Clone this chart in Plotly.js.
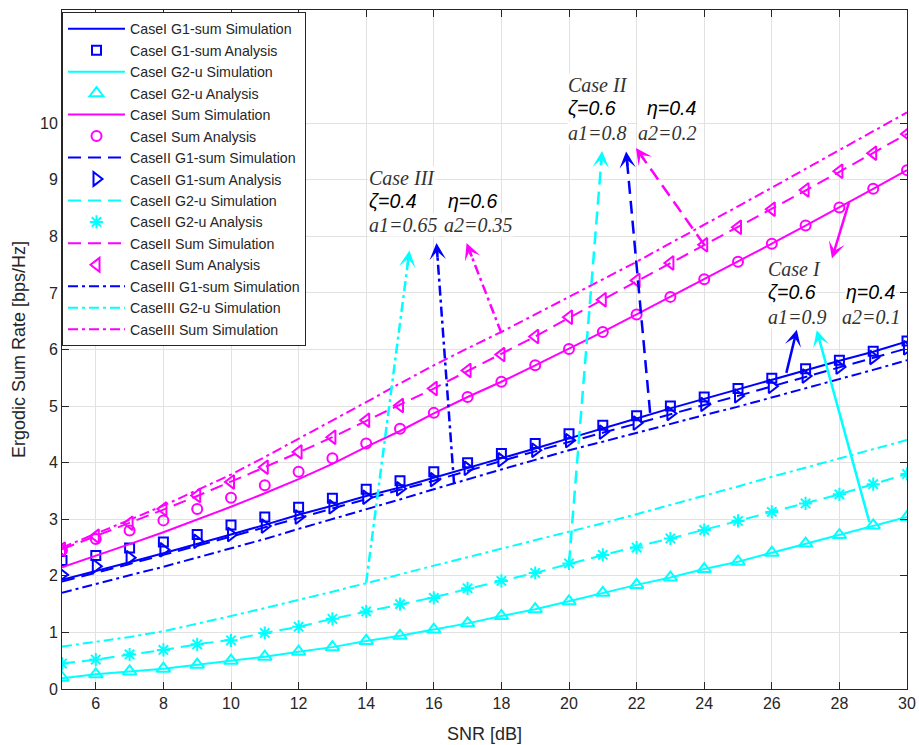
<!DOCTYPE html>
<html><head><meta charset="utf-8">
<script src="https://cdn.plot.ly/plotly-3.0.1.min.js"></script>
<style>html,body{margin:0;padding:0;background:#fff}#chart{width:919px;height:745px}</style>
</head><body><div id="chart"></div>
<script>
// ---------------- data ----------------
const snr = [5,6,7,8,9,10,11,12,13,14,15,16,17,18,19,20,21,22,23,24,25,26,27,28,29,30];
const xTicks = [6,8,10,12,14,16,18,20,22,24,26,28,30];
const yTicks = [0,1,2,3,4,5,6,7,8,9,10];

const caseI_G1_sim  = [1.93,2.08,2.24,2.40,2.56,2.73,2.90,3.08,3.24,3.41,3.56,3.73,3.91,4.07,4.25,4.43,4.60,4.78,4.96,5.13,5.29,5.47,5.64,5.80,5.96,6.14];
const caseI_G1_ana  = [2.27,2.36,2.49,2.60,2.73,2.90,3.04,3.21,3.37,3.53,3.68,3.84,4.00,4.16,4.34,4.51,4.66,4.83,5.00,5.16,5.31,5.49,5.66,5.81,5.97,6.15];
const caseI_G2_sim  = [0.19,0.26,0.31,0.36,0.43,0.50,0.57,0.66,0.74,0.85,0.94,1.05,1.16,1.29,1.41,1.55,1.70,1.84,1.97,2.12,2.25,2.41,2.57,2.72,2.89,3.04];
const caseI_G2_ana  = [0.20,0.26,0.31,0.36,0.43,0.50,0.57,0.66,0.74,0.85,0.94,1.05,1.16,1.29,1.41,1.55,1.70,1.84,1.97,2.12,2.25,2.41,2.57,2.72,2.89,3.04];
const caseI_Sum_sim = [2.15,2.35,2.56,2.77,2.99,3.22,3.46,3.71,3.98,4.28,4.56,4.87,5.16,5.43,5.72,6.01,6.31,6.62,6.93,7.24,7.55,7.87,8.19,8.51,8.84,9.17];
const caseI_Sum_ana = [2.45,2.65,2.80,2.98,3.18,3.38,3.60,3.84,4.08,4.34,4.60,4.88,5.16,5.43,5.72,6.01,6.31,6.62,6.93,7.24,7.55,7.87,8.19,8.51,8.84,9.17];
const caseII_G1_sim = [1.90,2.05,2.21,2.37,2.53,2.69,2.86,3.02,3.19,3.36,3.52,3.68,3.86,4.03,4.20,4.37,4.53,4.69,4.86,5.02,5.18,5.35,5.52,5.69,5.86,6.02];
const caseII_G1_ana = [2.02,2.17,2.32,2.46,2.61,2.73,2.88,3.04,3.22,3.39,3.54,3.70,3.90,4.05,4.22,4.39,4.54,4.70,4.87,5.03,5.18,5.35,5.53,5.69,5.86,6.03];
const caseII_G2_sim = [0.45,0.52,0.61,0.69,0.79,0.87,0.99,1.10,1.24,1.37,1.50,1.62,1.77,1.91,2.05,2.21,2.37,2.52,2.66,2.81,2.97,3.13,3.28,3.44,3.62,3.80];
const caseII_G2_ana = [0.45,0.52,0.61,0.69,0.79,0.86,0.99,1.10,1.24,1.37,1.50,1.61,1.78,1.91,2.05,2.22,2.37,2.50,2.66,2.81,2.97,3.13,3.28,3.44,3.62,3.80];
const caseII_Sum_sim= [2.47,2.70,2.93,3.17,3.41,3.66,3.92,4.18,4.45,4.74,5.02,5.31,5.62,5.92,6.23,6.56,6.88,7.21,7.53,7.85,8.16,8.48,8.81,9.14,9.47,9.81];
const caseII_Sum_ana= [2.47,2.70,2.93,3.18,3.42,3.66,3.92,4.19,4.45,4.75,5.01,5.31,5.63,5.91,6.23,6.57,6.88,7.22,7.53,7.85,8.16,8.48,8.82,9.15,9.47,9.81];
const caseIII_G1_sim= [1.70,1.86,2.01,2.16,2.32,2.48,2.65,2.83,3.00,3.17,3.35,3.53,3.71,3.88,4.05,4.22,4.37,4.53,4.68,4.84,4.99,5.15,5.31,5.48,5.64,5.81];
const caseIII_G2_sim= [0.75,0.83,0.92,1.02,1.15,1.29,1.43,1.57,1.72,1.87,2.03,2.18,2.33,2.48,2.62,2.77,2.93,3.09,3.25,3.42,3.58,3.75,3.91,4.07,4.24,4.40];
const caseIII_Sum_sim=[2.50,2.74,2.99,3.24,3.51,3.79,4.10,4.42,4.74,5.07,5.40,5.72,6.02,6.31,6.62,6.93,7.24,7.55,7.88,8.20,8.53,8.86,9.19,9.52,9.85,10.19];

// ---------------- styles ----------------
const BLUE='#0000ff', CYAN='#00ffff', MAG='#ff00ff';
const DASH='13px,7px', DASHDOT='10px,4px,3px,4px';
const FONT='"Liberation Sans", Arial, Helvetica, sans-serif';
const SERIF='"Liberation Serif", "Times New Roman", serif';

function sim(name, y, color, dash){
  return {type:'scatter', mode:'lines', name:name, x:snr, y:y,
          line:{color:color, width:2, dash:dash}};
}
function ana(name, y, color, symbol, size){
  return {type:'scatter', mode:'markers', name:name, x:snr, y:y,
          marker:{symbol:symbol, size:size, color:color, line:{color:color, width:2}}};
}

const traces = [
  sim('CaseI G1-sum Simulation', caseI_G1_sim, BLUE, 'solid'),
  ana('CaseI G1-sum Analysis', caseI_G1_ana, BLUE, 'square-open', 9),
  sim('CaseI G2-u Simulation', caseI_G2_sim, CYAN, 'solid'),
  ana('CaseI G2-u Analysis', caseI_G2_ana, CYAN, 'triangle-up-open', 12),
  sim('CaseI Sum Simulation', caseI_Sum_sim, MAG, 'solid'),
  ana('CaseI Sum Analysis', caseI_Sum_ana, MAG, 'circle-open', 10),
  sim('CaseII G1-sum Simulation', caseII_G1_sim, BLUE, DASH),
  ana('CaseII G1-sum Analysis', caseII_G1_ana, BLUE, 'triangle-right-open', 12),
  sim('CaseII G2-u Simulation', caseII_G2_sim, CYAN, DASH),
  ana('CaseII G2-u Analysis', caseII_G2_ana, CYAN, 'asterisk-open', 11),
  sim('CaseII Sum Simulation', caseII_Sum_sim, MAG, DASH),
  ana('CaseII Sum Analysis', caseII_Sum_ana, MAG, 'triangle-left-open', 12),
  sim('CaseIII G1-sum Simulation', caseIII_G1_sim, BLUE, DASHDOT),
  sim('CaseIII G2-u Simulation', caseIII_G2_sim, CYAN, DASHDOT),
  sim('CaseIII Sum Simulation', caseIII_Sum_sim, MAG, DASHDOT)
];

// ---------------- annotations ----------------
const W=919, H=745, M={l:62, r:12, t:10, b:56};
const X0=5, X1=30, Y0=0, Y1=12;
const pxX=(W-M.l-M.r)/(X1-X0), pxY=(H-M.t-M.b)/(Y1-Y0);

const arrows = [
  // Case III (dash-dot)
  {tail:[14.0,1.88], tip:[15.28,7.75], color:CYAN, dash:DASHDOT},
  {tail:[16.6,3.62], tip:[16.08,7.88], color:BLUE, dash:DASHDOT},
  {tail:[18.0,6.29], tip:[16.97,7.88], color:MAG,  dash:DASHDOT},
  // Case II (dashed)
  {tail:[20.0,2.22], tip:[20.98,9.51], color:CYAN, dash:DASH},
  {tail:[22.4,4.88], tip:[21.69,9.50], color:BLUE, dash:DASH},
  {tail:[24.0,7.85], tip:[21.98,9.56], color:MAG,  dash:DASH},
  // Case I (solid)
  {tail:[28.3,8.63], tip:[27.78,7.61], color:MAG,  dash:'solid'},
  {tail:[26.42,5.56], tip:[26.74,6.35], color:BLUE, dash:'solid'},
  {tail:[28.9,2.92], tip:[27.33,6.34], color:CYAN, dash:'solid'}
];

const shapes = [];
const annotations = [];
arrows.forEach(a => {
  const dx=(a.tip[0]-a.tail[0])*pxX, dy=-(a.tip[1]-a.tail[1])*pxY;
  const len=Math.hypot(dx,dy), ux=dx/len, uy=dy/len;
  if (a.dash === 'solid') {
    annotations.push({x:a.tip[0], y:a.tip[1], ax:a.tail[0], ay:a.tail[1], axref:'x', ayref:'y',
      xref:'x', yref:'y', text:'', showarrow:true, arrowhead:3, arrowsize:1.1, arrowwidth:2.5,
      arrowcolor:a.color, standoff:0});
  } else {
    shapes.push({type:'line', xref:'x', yref:'y', x0:a.tail[0], y0:a.tail[1],
      x1:a.tail[0]+(a.tip[0]-a.tail[0])*(1-10/len), y1:a.tail[1]+(a.tip[1]-a.tail[1])*(1-10/len),
      line:{color:a.color, width:2.5, dash:a.dash}});
    annotations.push({x:a.tip[0], y:a.tip[1], ax:-ux*16, ay:-uy*16, xref:'x', yref:'y',
      text:'', showarrow:true, arrowhead:3, arrowsize:1.1, arrowwidth:2.5,
      arrowcolor:a.color, standoff:0});
  }
});

const labels = [
  // Case III
  {x:14.05, y:9.03, t:'Case III', k:'serif'},
  {x:14.05, y:8.62, t:'ζ=0.4', k:'sans'},
  {x:16.39, y:8.62, t:'η=0.6', k:'sans'},
  {x:14.05, y:8.20, t:'a1=0.65', k:'serif'},
  {x:16.27, y:8.20, t:'a2=0.35', k:'serif'},
  // Case II
  {x:19.94, y:10.68, t:'Case II', k:'serif'},
  {x:19.94, y:10.26, t:'ζ=0.6', k:'sans'},
  {x:22.28, y:10.26, t:'η=0.4', k:'sans'},
  {x:19.94, y:9.83, t:'a1=0.8', k:'serif'},
  {x:22.01, y:9.83, t:'a2=0.2', k:'serif'},
  // Case I
  {x:25.86, y:7.43, t:'Case I', k:'serif'},
  {x:25.86, y:7.01, t:'ζ=0.6', k:'sans'},
  {x:28.17, y:7.01, t:'η=0.4', k:'sans'},
  {x:25.86, y:6.58, t:'a1=0.9', k:'serif'},
  {x:28.05, y:6.58, t:'a2=0.1', k:'serif'}
];
labels.forEach(l => {
  annotations.push({x:l.x, y:l.y, xref:'x', yref:'y', xanchor:'left', yanchor:'middle',
    text:'<i>'+l.t+'</i>', showarrow:false, bgcolor:'#ffffff', borderpad:0,
    font: l.k==='serif' ? {family:SERIF, size:20, color:'#333333'} : {family:FONT, size:19.5, color:'#000000'}});
});

const axisCommon = {
  showline:true, linecolor:'#262626', linewidth:1, mirror:'ticks',
  ticks:'inside', ticklen:7, tickwidth:1, tickcolor:'#262626',
  showgrid:true, gridcolor:'#e2e2e2', gridwidth:1, zeroline:false,
  tickfont:{family:FONT, size:16, color:'#262626'}
};

const layout = {
  width:W, height:H, margin:M, paper_bgcolor:'#ffffff', plot_bgcolor:'#ffffff',
  font:{family:FONT, color:'#262626'},
  xaxis: Object.assign({}, axisCommon, {range:[X0,X1], tickmode:'array', tickvals:xTicks,
    title:{text:'SNR [dB]', font:{family:FONT, size:18, color:'#262626'}, standoff:16}}),
  yaxis: Object.assign({}, axisCommon, {range:[Y0,Y1], tickmode:'array', tickvals:yTicks,
    title:{text:'Ergodic Sum Rate [bps/Hz]', font:{family:FONT, size:18, color:'#262626'}, standoff:9}}),
  legend:{x:0, y:0.997, xanchor:'left', yanchor:'top', bgcolor:'#ffffff',
    bordercolor:'#262626', borderwidth:1, itemwidth:57, entrywidth:190, entrywidthmode:'pixels',
    font:{family:FONT, size:14.2, color:'#262626'}, tracegroupgap:0},
  showlegend:true,
  shapes:shapes,
  annotations:annotations
};

Plotly.newPlot('chart', traces, layout, {displayModeBar:false, staticPlot:true});
</script>
</body></html>
